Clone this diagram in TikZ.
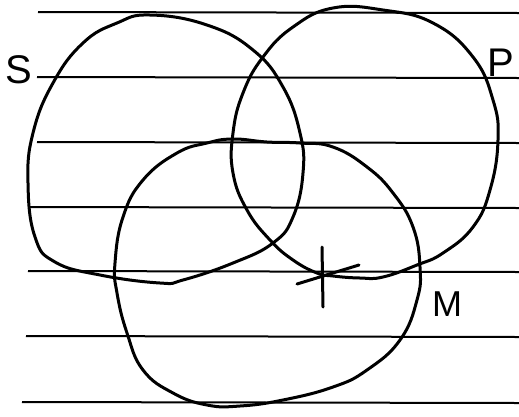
\documentclass[tikz,border=0pt]{standalone}
\usepackage{fontspec}
\setmainfont{Liberation Sans}
\begin{document}
\begin{tikzpicture}[x=1pt,y=-1pt,
  ruled/.style={line width=2pt,black},
  loop/.style={line width=3pt,black,line join=round,line cap=round},
  lbl/.style={font=\fontsize{40}{40}\selectfont,inner sep=0pt}]
\useasboundingbox[fill=white] (0,0) rectangle (519,416);
% ruled paper lines
\foreach \ya/\xa in {12/38,77/37,142/37,207/30,271/28,336/26,402/22}
  \draw[ruled] (\xa,\ya) -- (519,\ya+1);
% S loop
\draw[loop] plot[smooth cycle,tension=0.75] coordinates {
 (150,15) (207,25) (253,50) (283,87) (300,133) (303,173) (293,217) (273,243)
 (233,263) (183,280) (160,283) (100,275) (55,262) (35,237) (28,183) (33,133)
 (53,83) (83,43) (117,23)};
% P loop
\draw[loop] plot[smooth cycle,tension=0.75] coordinates {
 (333,8) (383,10) (433,23) (473,57) (493,100) (498,140) (490,190) (473,227)
 (443,253) (417,265) (383,277) (360,278) (333,276) (317,273) (293,260) (270,240)
 (247,210) (233,173) (233,133) (243,93) (263,57) (293,27)};
% M loop
\draw[loop] plot[smooth cycle,tension=0.75] coordinates {
 (233,139) (267,142) (300,143) (333,147) (367,167) (393,193) (413,227) (420,267)
 (417,300) (400,340) (367,370) (333,387) (283,400) (240,406) (207,405) (173,393)
 (143,370) (127,333) (117,293) (115,263) (123,217) (143,180) (177,153) (207,143)};
% cross mark
\coordinate (c1) at (322,247); \coordinate (c2) at (323,307);
\coordinate (c3) at (297,284); \coordinate (c4) at (359,265);
\draw[loop] (c1) -- (c2);
\draw[loop] (c3) -- (c4);
% labels
\node[lbl] (S) at (19,70) {S};
\node[lbl] (P) at (501,63) {P};
\node[lbl,font=\fontsize{36}{36}\selectfont] (M) at (447,304) {M};
\end{tikzpicture}
\end{document}
